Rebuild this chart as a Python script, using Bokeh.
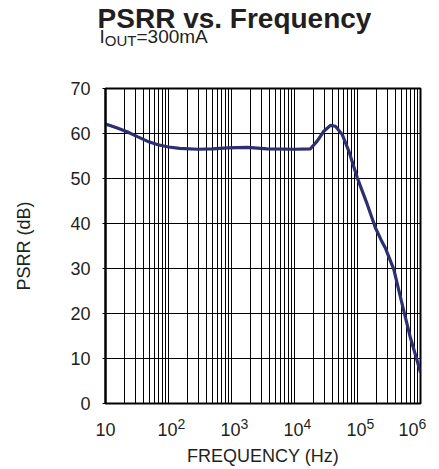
from bokeh.plotting import figure
from bokeh.layouts import column
from bokeh.models import Label, Range1d, FixedTicker
from bokeh.embed import file_html
from bokeh.resources import INLINE

# ---- data ----
freq_hz = [10, 15, 22, 32, 46, 68, 100, 150, 290, 500, 870, 1800, 3700, 10000,
           17900, 22900, 29200, 37200, 44700, 57100, 72800, 98900, 142600,
           193000, 238000, 278000, 300000, 377000, 513000, 692000, 885000, 1000000]
psrr_db = [62.1, 61.3, 60.4, 59.3, 58.3, 57.5, 57.0, 56.7, 56.5, 56.6, 56.8, 56.9, 56.6, 56.5,
           56.6, 58.3, 60.5, 61.8, 61.6, 59.8, 56.1, 50.2, 44.3,
           39.0, 36.3, 34.5, 33.3, 29.8, 22.0, 14.6, 9.5, 6.9]

decades = [10, 100, 1000, 10000, 100000, 1000000]
tick_base = ["10", "10", "10", "10", "10", "10"]
tick_exp = ["", "2", "3", "4", "5", "6"]
y_ticks = [0, 10, 20, 30, 40, 50, 60, 70]

title_text = "PSRR vs. Frequency"
sub_main = "I"
sub_script = "OUT"
sub_rest = "=300mA"
x_title = "FREQUENCY (Hz)"
y_title = "PSRR (dB)"

FONT = "Liberation Sans"
TXT = "#231f20"
LINE = "#2d2f6e"

# ---- layout constants (pixels) ----
W, H = 439, 469
HEAD_H = 78
FRAME_L, FRAME_W, FRAME_H = 105, 315, 315
FRAME_R = W - FRAME_L - FRAME_W
PAD_T, PAD_B = 10, 10
MAIN_H = PAD_T + FRAME_H + PAD_B
FOOT_H = H - HEAD_H - MAIN_H
LIFT = 7.5  # label baseline correction in the text strips


def strip(height, **kw):
    f = figure(width=W, height=height, output_backend="svg", toolbar_location=None,
               title=None, x_axis_location=None, y_axis_location=None,
               min_border=0, min_border_left=0, min_border_right=0,
               min_border_top=0, min_border_bottom=0, **kw)
    f.grid.visible = False
    f.outline_line_color = None
    f.background_fill_color = "white"
    f.border_fill_color = "white"
    if "frame_align" in f.properties():
        f.frame_align = False
    return f


def lab(fig, x, y, text, size="18px", style="normal", align="left", xo=0):
    fig.add_layout(Label(x=x, y=y + LIFT, text=text, x_offset=xo, text_font=FONT,
                         text_font_size=size, text_font_style=style, text_color=TXT,
                         text_align=align, text_baseline="alphabetic"))


# ---- heading strip: title + subtitle with subscript ----
head = strip(HEAD_H, x_range=Range1d(0, W), y_range=Range1d(0, HEAD_H))
lab(head, 234, HEAD_H - 25, title_text, size="28px", style="bold", align="center")
lab(head, 99, HEAD_H - 43, sub_main, size="19px")
lab(head, 104.3, HEAD_H - 47.5, sub_script, size="15px")
lab(head, 136, HEAD_H - 43, sub_rest, size="19px")

# ---- main chart ----
p = figure(width=W, height=MAIN_H, x_axis_type="log",
           x_range=Range1d(decades[0], decades[-1]), y_range=Range1d(0, 70),
           output_backend="svg", toolbar_location=None, title=None,
           min_border_left=FRAME_L, min_border_right=FRAME_R,
           min_border_top=PAD_T, min_border_bottom=PAD_B)
if "frame_align" in p.properties():
    p.frame_align = False
p.background_fill_color = "white"
p.border_fill_color = "white"
p.outline_line_color = "black"
p.outline_line_width = 2
p.outline_line_alpha = 1

p.xaxis.visible = False
minors = [d * m for d in decades[:-1] for m in range(2, 10)]
p.xgrid.ticker = FixedTicker(ticks=decades, minor_ticks=minors)
p.xgrid.grid_line_color = "black"
p.xgrid.grid_line_width = 1
p.xgrid.minor_grid_line_color = "black"
p.xgrid.minor_grid_line_width = 1

yt = FixedTicker(ticks=y_ticks)
p.yaxis.ticker = yt
p.ygrid.ticker = yt
p.ygrid.grid_line_color = "black"
p.ygrid.grid_line_width = 1
p.yaxis.axis_line_color = "black"
p.yaxis.axis_line_width = 2
p.yaxis.major_tick_out = 3
p.yaxis.major_tick_in = 0
p.yaxis.major_tick_line_color = "black"
p.yaxis.minor_tick_line_color = None
p.yaxis.major_label_standoff = 12
p.yaxis.major_label_text_font = FONT
p.yaxis.major_label_text_font_size = "18px"
p.yaxis.major_label_text_color = TXT
p.yaxis.axis_label = y_title
p.yaxis.axis_label_standoff = 33
p.yaxis.axis_label_text_font = FONT
p.yaxis.axis_label_text_font_size = "18px"
p.yaxis.axis_label_text_font_style = "normal"
p.yaxis.axis_label_text_color = TXT

p.line(freq_hz, psrr_db, line_color=LINE, line_width=3.2, line_join="round")

# ---- foot strip: x tick labels with superscripts + x axis title ----
# same log scale as the main chart, extended to the full strip width
dec_px = FRAME_W / (len(decades) - 1)
lo = decades[0] * 10 ** (-FRAME_L / dec_px)
hi = decades[-1] * 10 ** (FRAME_R / dec_px)
foot = strip(FOOT_H, x_axis_type="log", x_range=Range1d(lo, hi), y_range=Range1d(0, FOOT_H))
base_y = H - 436.5
exp_y = H - 431
for i, (d, b, e) in enumerate(zip(decades, tick_base, tick_exp)):
    if not e:
        lab(foot, d, base_y, b, align="center")
    else:
        shift = -11 if i == len(decades) - 1 else 0
        lab(foot, d, base_y, b, align="right", xo=9 + shift)
        lab(foot, d, exp_y, e, size="14px", align="left", xo=9 + shift)
lab(foot, (decades[0] * decades[-1]) ** 0.5, H - 463, x_title, align="center")

layout = column(head, p, foot, spacing=0)
open("out.html", "w").write(file_html(layout, INLINE))
